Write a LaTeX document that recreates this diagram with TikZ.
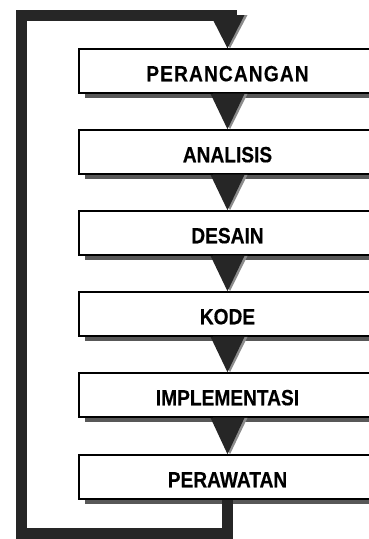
\documentclass[tikz,border=0pt]{standalone}
\usepackage{fontspec}
\setmainfont[FakeStretch=0.87,FakeBold=0.4]{Liberation Sans}
\usetikzlibrary{shadows}
\definecolor{loopc}{HTML}{262626}
\definecolor{shadc}{HTML}{585858}
\definecolor{triedgec}{HTML}{8C8C8C}
\tikzset{
 stage/.style={draw=black, line width=1.5pt, fill=white, minimum width=297pt,
   minimum height=44pt, inner sep=0pt, text height=20.5pt, text depth=0pt,
   font=\fontsize{22pt}{26pt}\selectfont\bfseries,
   drop shadow={shadow xshift=6pt, shadow yshift=-5pt, fill=shadc, opacity=1}},
 looppath/.style={draw=loopc, line width=11pt, line join=miter},
 tri/.style={fill=loopc},
 trishade/.style={fill=triedgec},
}
\newcommand\stagetri[2]{%
  \fill[trishade] ([xshift=-14.5pt]#1) -- ([xshift=20pt]#1) -- ([xshift=2.5pt]#2) -- cycle;
  \fill[tri] ([xshift=-17pt]#1) -- ([xshift=17pt]#1) -- (#2) -- cycle;
}
\begin{document}
\begin{tikzpicture}[x=1pt,y=-1pt]
\path[use as bounding box, clip] (0,0) rectangle (369,539);
\node[stage] (b1) at (227.5,71) {{\addfontfeatures{LetterSpace=5.2}PERANCANGAN}};
\node[stage] (b2) at (227.5,152) {ANALISIS};
\node[stage] (b3) at (227.5,233) {DESAIN};
\node[stage] (b4) at (227.5,314) {KODE};
\node[stage] (b5) at (227.5,395) {IMPLEMENTASI};
\node[stage] (b6) at (227.5,477) {PERAWATAN};
\coordinate (lb) at (21.5,533);
\coordinate (lt) at (21.5,15);
\coordinate (le) at (237,15);
\coordinate (t0) at (227.5,15);
\draw[looppath] (b6.south) |- (lb) -- (lt) -- (le);
\stagetri{t0}{b1.north}
\stagetri{b1.south}{b2.north}
\stagetri{b2.south}{b3.north}
\stagetri{b3.south}{b4.north}
\stagetri{b4.south}{b5.north}
\stagetri{b5.south}{b6.north}
\end{tikzpicture}
\end{document}
